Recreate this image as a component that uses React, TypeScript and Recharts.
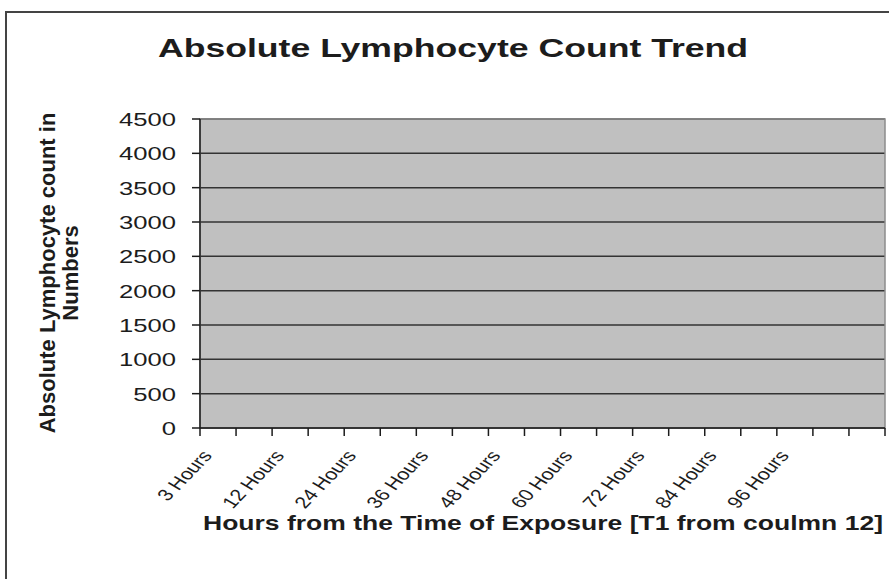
import { BarChart, Bar, XAxis, YAxis, CartesianGrid, ReferenceArea } from "recharts";

// 19 category slots on the x axis, only every other one carries a label
const tickLabels = [
  "3 Hours", "", "12 Hours", "", "24 Hours", "", "36 Hours", "", "48 Hours", "",
  "60 Hours", "", "72 Hours", "", "84 Hours", "", "96 Hours", "", "",
];

// the chart has no plotted values
const lymphocyteCounts: (number | null)[] = [
  null, null, null, null, null, null, null, null, null, null,
  null, null, null, null, null, null, null, null, null,
];

const yTicks = [0, 500, 1000, 1500, 2000, 2500, 3000, 3500, 4000, 4500];

const data = tickLabels.map((label, i) => ({ slot: i, label, count: lymphocyteCounts[i] }));

const W = 889;
const H = 579;
const PLOT_LEFT = 200;
const PLOT_RIGHT = 885;
const PLOT_TOP = 119;
const PLOT_BOTTOM = 428;
const BAND = (PLOT_RIGHT - PLOT_LEFT) / tickLabels.length;
const STRETCH = 1.35;
const FONT = "'Liberation Sans', Arial, Helvetica, sans-serif";
const INK = "#1c1c1c";

const XTick = (props: any) => {
  const { x, y, payload, index } = props;
  const label = tickLabels[payload.value] ?? "";
  const half = BAND / 2;
  return (
    <g>
      <line x1={x - half} y1={y} x2={x - half} y2={y + 8} stroke={INK} strokeWidth={1.5} />
      {index === tickLabels.length - 1 && (
        <line x1={x + half} y1={y} x2={x + half} y2={y + 8} stroke={INK} strokeWidth={1.5} />
      )}
      {label && (
        <text
          transform={`translate(${x - 5},${y + 28}) scale(1.3,1) rotate(-53)`}
          textAnchor="end"
          fontSize={16.5}
          fontFamily={FONT}
          fill={INK}
        >
          {label}
        </text>
      )}
    </g>
  );
};

const YTick = (props: any) => {
  const { x, y, payload } = props;
  return (
    <text
      transform={`translate(${x},${y}) scale(${STRETCH},1)`}
      textAnchor="end"
      dy="0.36em"
      fontSize={19}
      fontFamily={FONT}
      fill={INK}
    >
      {payload.value}
    </text>
  );
};

export default function App() {
  return (
    <div style={{ position: "absolute", left: 0, top: 0, width: W, height: H, overflow: "hidden", background: "#fff" }}>
      <div
        style={{
          position: "absolute",
          left: 5,
          top: 11,
          width: 920,
          height: 620,
          border: "2px solid #444",
          boxSizing: "border-box",
        }}
      />
      <div style={{ position: "absolute", left: 0, top: 0 }}>
        <BarChart
          width={W}
          height={H}
          data={data}
          margin={{ top: PLOT_TOP, right: W - PLOT_RIGHT, left: PLOT_LEFT - 60, bottom: H - PLOT_BOTTOM - 60 }}
        >
          <CartesianGrid vertical={false} fill="#c0c0c0" fillOpacity={1} stroke="#333" strokeWidth={1.5} />
          <ReferenceArea y1={0} y2={4500} fill="none" stroke="#8c8c8c" strokeWidth={1.5} ifOverflow="visible" />
          <XAxis
            dataKey="slot"
            type="category"
            interval={0}
            height={60}
            tickLine={false}
            tickSize={0}
            tickMargin={0}
            axisLine={{ stroke: INK, strokeWidth: 1.5 }}
            tick={<XTick />}
          />
          <YAxis
            type="number"
            width={60}
            domain={[0, 4500]}
            allowDataOverflow
            ticks={yTicks}
            interval={0}
            tickSize={8}
            tickMargin={16}
            tickLine={{ stroke: INK, strokeWidth: 1.5 }}
            axisLine={{ stroke: INK, strokeWidth: 1.5 }}
            tick={<YTick />}
          />
          <Bar dataKey="count" fill="#000080" isAnimationActive={false} />
        </BarChart>
      </div>
      <svg width={W} height={H} style={{ position: "absolute", left: 0, top: 0, pointerEvents: "none" }}>
        <text
          transform={`translate(453,57) scale(${STRETCH + 0.02},1)`}
          textAnchor="middle"
          fontSize={26}
          fontWeight="bold"
          fontFamily={FONT}
          fill={INK}
        >
          Absolute Lymphocyte Count Trend
        </text>
        <text
          transform="translate(55,273) rotate(-90)"
          textAnchor="middle"
          fontSize={22}
          fontWeight="bold"
          fontFamily={FONT}
          fill={INK}
        >
          Absolute Lymphocyte count in
        </text>
        <text
          transform="translate(78,273) rotate(-90)"
          textAnchor="middle"
          fontSize={22}
          fontWeight="bold"
          fontFamily={FONT}
          fill={INK}
        >
          Numbers
        </text>
        <text
          transform={`translate(543,530) scale(${STRETCH + 0.01},1)`}
          textAnchor="middle"
          fontSize={19.5}
          fontWeight="bold"
          fontFamily={FONT}
          fill={INK}
        >
          Hours from the Time of Exposure [T1 from coulmn 12]
        </text>
      </svg>
    </div>
  );
}
